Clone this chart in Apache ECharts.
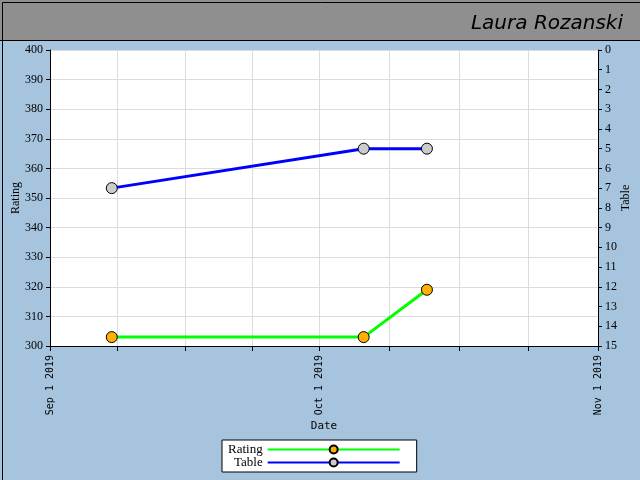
<!DOCTYPE html>
<html>
<head>
<meta charset="utf-8">
<script src="https://cdn.jsdelivr.net/npm/echarts@6/dist/echarts.min.js"></script>
<style>html,body{margin:0;padding:0;background:#a6c4dd;}#c{width:640px;height:480px;}</style>
</head>
<body>
<div id="c"></div>
<script>
const titleText = 'Laura Rozanski';
const dates = ['2019-09-07 21:00', '2019-10-05 22:00', '2019-10-12 23:00'];
const ratingValues = [303, 303, 319];
const tableValues = [7, 5, 5];
const monthStarts = [[2019, 8], [2019, 9], [2019, 10]]; // Sep 1, Oct 1, Nov 1 (month index 0-based)
const monthNames = ['Jan','Feb','Mar','Apr','May','Jun','Jul','Aug','Sep','Oct','Nov','Dec'];

function ms(y, m, d, h) { return new Date(y, m, d, h || 0).getTime(); }
function parseDay(s) {
  const parts = s.split(' ');
  const p = parts[0].split('-').map(Number);
  const h = parts[1] ? Number(parts[1].split(':')[0]) : 0;
  return ms(p[0], p[1] - 1, p[2], h);
}
const xMin = ms(2019, 8, 1), xMax = ms(2019, 10, 1);
const labelTicks = monthStarts.map(a => ms(a[0], a[1], 1));
const tickVals = [];
for (let i = 0; i < labelTicks.length - 1; i++) {
  const a = labelTicks[i], b = labelTicks[i + 1];
  for (let k = 0; k < 4; k++) tickVals.push(a + (b - a) * k / 4);
}
tickVals.push(labelTicks[labelTicks.length - 1]);

const ratingData = dates.map((d, i) => [parseDay(d), ratingValues[i]]);
const tableData = dates.map((d, i) => [parseDay(d), tableValues[i]]);

const chart = echarts.init(document.getElementById('c'), null, {renderer: 'canvas'});
const serif = 'Liberation Serif';
const mono = 'DejaVu Sans Mono';
chart.setOption({
  backgroundColor: '#a6c4dd',
  animation: false,
  graphic: [
    {type: 'rect', left: 0, top: 0, shape: {width: 640, height: 40}, style: {fill: '#8f8f8f'}, z: -1},
    {type: 'rect', left: 0, top: 0, shape: {x: 0.5, y: 0.5, width: 639, height: 479}, style: {fill: 'none', stroke: '#000', lineWidth: 1}, z: 10},
    {type: 'line', shape: {x1: 0, y1: 40.5, x2: 640, y2: 40.5}, style: {stroke: '#000', lineWidth: 1}, z: 10}
  ],
  title: {
    text: titleText, right: 12, top: 9,
    textStyle: {fontFamily: 'DejaVu Sans', fontWeight: 200, fontStyle: 'italic', fontSize: 20, color: '#000'}
  },
  grid: {left: 50, right: 41, top: 50, bottom: 134, show: true, backgroundColor: '#fff', borderWidth: 0},
  legend: {
    orient: 'vertical', left: 222, top: 440, align: 'right',
    backgroundColor: '#fff', borderColor: '#000', borderWidth: 1,
    padding: [3, 16, 3, 6], itemGap: 0, itemWidth: 132, itemHeight: 10,
    textStyle: {fontFamily: serif, fontSize: 13, lineHeight: 12, color: '#000'},
    data: ['Rating', 'Table']
  },
  xAxis: {
    type: 'value', min: xMin, max: xMax, position: 'bottom',
    name: 'Date', nameLocation: 'middle', nameGap: 75, nameMoveOverlap: false,
    nameTextStyle: {fontFamily: mono, fontSize: 11, color: '#000'},
    axisLine: {show: true, onZero: false, lineStyle: {color: '#000', width: 1}},
    axisTick: {show: true, inside: false, customValues: tickVals, length: 5, lineStyle: {color: '#000'}},
    axisLabel: {
      customValues: labelTicks, rotate: 90, fontFamily: mono, fontSize: 10, color: '#000', margin: 9,
      formatter: function (v) { const d = new Date(v); return monthNames[d.getMonth()] + ' ' + d.getDate() + ' ' + d.getFullYear(); }
    },
    splitLine: {show: true, lineStyle: {color: '#dcdcdc', width: 1}}
  },
  yAxis: [
    {
      type: 'value', min: 300, max: 400, interval: 10, position: 'left',
      name: 'Rating', nameLocation: 'middle', nameGap: 28, nameMoveOverlap: false,
      nameTextStyle: {fontFamily: serif, fontSize: 12, color: '#000'},
      axisLine: {show: true, onZero: false, lineStyle: {color: '#000'}},
      axisTick: {show: true, inside: false, length: 4, lineStyle: {color: '#000'}},
      axisLabel: {fontFamily: serif, fontSize: 12, color: '#000', margin: 7},
      splitLine: {show: true, lineStyle: {color: '#dcdcdc', width: 1}}
    },
    {
      type: 'value', min: 0, max: 15, interval: 1, inverse: true, position: 'right',
      name: 'Table', nameLocation: 'middle', nameGap: 22, nameMoveOverlap: false,
      nameTextStyle: {fontFamily: serif, fontSize: 12, color: '#000'},
      axisLine: {show: true, onZero: false, lineStyle: {color: '#000'}},
      axisTick: {show: true, inside: false, length: 4, lineStyle: {color: '#000'}},
      axisLabel: {fontFamily: serif, fontSize: 12, color: '#000', margin: 7},
      splitLine: {show: false}
    }
  ],
  series: [
    {
      name: 'Rating', type: 'line', yAxisIndex: 0, data: ratingData,
      symbol: 'circle', symbolSize: 11,
      lineStyle: {color: '#00ff00', width: 3},
      itemStyle: {color: '#ffb000', borderColor: '#000', borderWidth: 1}
    },
    {
      name: 'Table', type: 'line', yAxisIndex: 1, data: tableData,
      symbol: 'circle', symbolSize: 11,
      lineStyle: {color: '#0000ff', width: 3},
      itemStyle: {color: '#cccccc', borderColor: '#000', borderWidth: 1}
    }
  ]
});
</script>
</body>
</html>
